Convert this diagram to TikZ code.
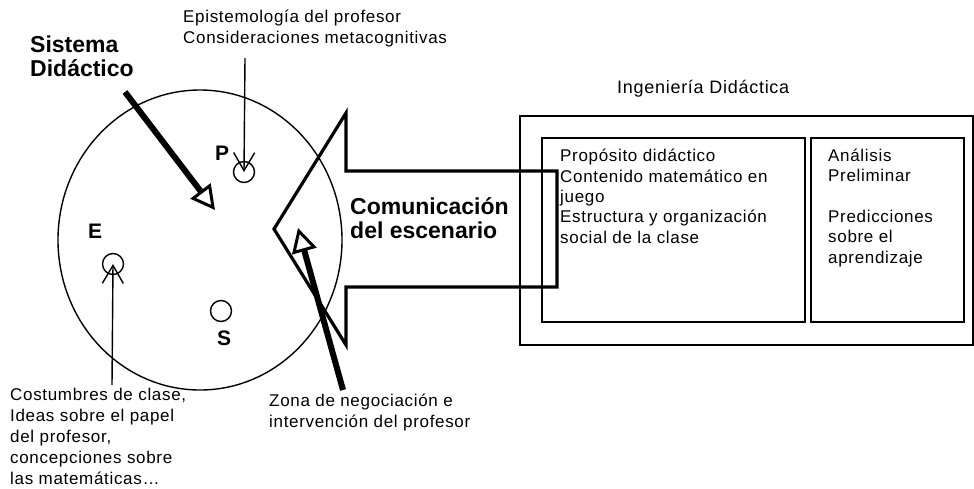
\documentclass[tikz,border=0pt]{standalone}
\usepackage{fontspec}
\setmainfont{Liberation Sans}
\newfontfamily\txtfont[LetterSpace=4]{Liberation Sans}
\usetikzlibrary{arrows.meta}
\usetikzlibrary{shapes.geometric}
\usetikzlibrary{positioning}

\tikzset{
  txt/.style={anchor=base west, inner sep=0pt, align=left,
    font=\txtfont\fontsize{17}{20.3}\selectfont},
  bold/.style={anchor=base west, inner sep=0pt, align=left,
    font=\bfseries\fontsize{23}{23.5}\selectfont},
  letter/.style={anchor=base west, inner sep=0pt,
    font=\bfseries\fontsize{21}{22}\selectfont},
  member/.style={draw, circle, line width=1.4pt, minimum size=21pt, inner sep=0pt},
  box/.style={draw, line width=1.8pt, inner sep=0pt},
  thinarr/.style={line width=1.4pt,
    -{Straight Barb[length=18pt, width=21pt, line width=1.4pt]}},
  bigarr/.style={line width=6pt,
    -{Triangle[open, length=24pt, width=25pt, line width=3pt]}},
}

\begin{document}
\begin{tikzpicture}[x=1pt, y=-1pt]
    \useasboundingbox (0,0) rectangle (974,488);

    % sistema didactico
    \node[draw, ellipse, line width=1.4pt, minimum width=284pt,
      minimum height=300pt, inner sep=0pt] (sys) at (200,240) {};
    \node[member] (p) at (244,172) {};
    \node[member] (e) at (113,264) {};
    \node[member] (s) at (221,311) {};
    \node[letter] (plab) at (215,160) {P};
    \node[letter] (elab) at (88,238) {E};
    \node[letter] (slab) at (217,345) {S};

    % (base = last line)
    \node[bold] (sdlab) at (30,76) {Sistema\\Didáctico};
    \node[txt] (epis) at (183,43) {Epistemología del profesor\\Consideraciones metacognitivas};
    \node[txt, font=\txtfont\fontsize{17}{21}\selectfont] (cost) at (10,484) {Costumbres de clase,\\Ideas sobre el papel\\del profesor,\\concepciones sobre\\las matemáticas…};
    \node[txt] (zona) at (269,427) {Zona de negociación e\\intervención del profesor};

    % comunicacion
    \draw[line width=3.2pt, line join=miter]
      (274,229) -- (346,113) -- (346,171) -- (557,171) -- (557,287)
      -- (346,287) -- (346,345) -- cycle;
    \node[bold] (com) at (350,238) {Comunicación\\del escenario};

    % ingenieria didactica
    \node[box, minimum width=453pt, minimum height=229pt] (ing) at (746.5,230.5) {};
    \node[box, minimum width=263pt, minimum height=184pt] (prop) at (673.5,230) {};
    \node[box, minimum width=153pt, minimum height=184pt] (anal) at (887.5,230) {};
    \node[txt, font=\txtfont\fontsize{18}{20.5}\selectfont] (inglab) at (617,93) {Ingeniería Didáctica};
    \node[txt] (proptxt) at (560,243) {Propósito didáctico\\Contenido matemático en\\juego\\Estructura y organización\\social de la clase};
    \node[txt] (analtxt) at (828,263) {Análisis\\Preliminar\\[20.3pt]Predicciones\\sobre el\\aprendizaje};

    % flechas
    \coordinate (sdtail) at (125,92);
    \coordinate (sdtip) at (215,210);
    \coordinate (zntail) at (343,390);
    \coordinate (zntip) at (298,228);
    \coordinate (eptail) at (245,58);
    \coordinate (cotail) at (112,385);
    \draw[bigarr] (sdtail) -- (sdtip);
    \draw[bigarr] (zntail) -- (zntip);
    \draw[thinarr] (eptail) -- (p.center);
    \draw[thinarr] (cotail) -- (e.center);
\end{tikzpicture}
\end{document}
